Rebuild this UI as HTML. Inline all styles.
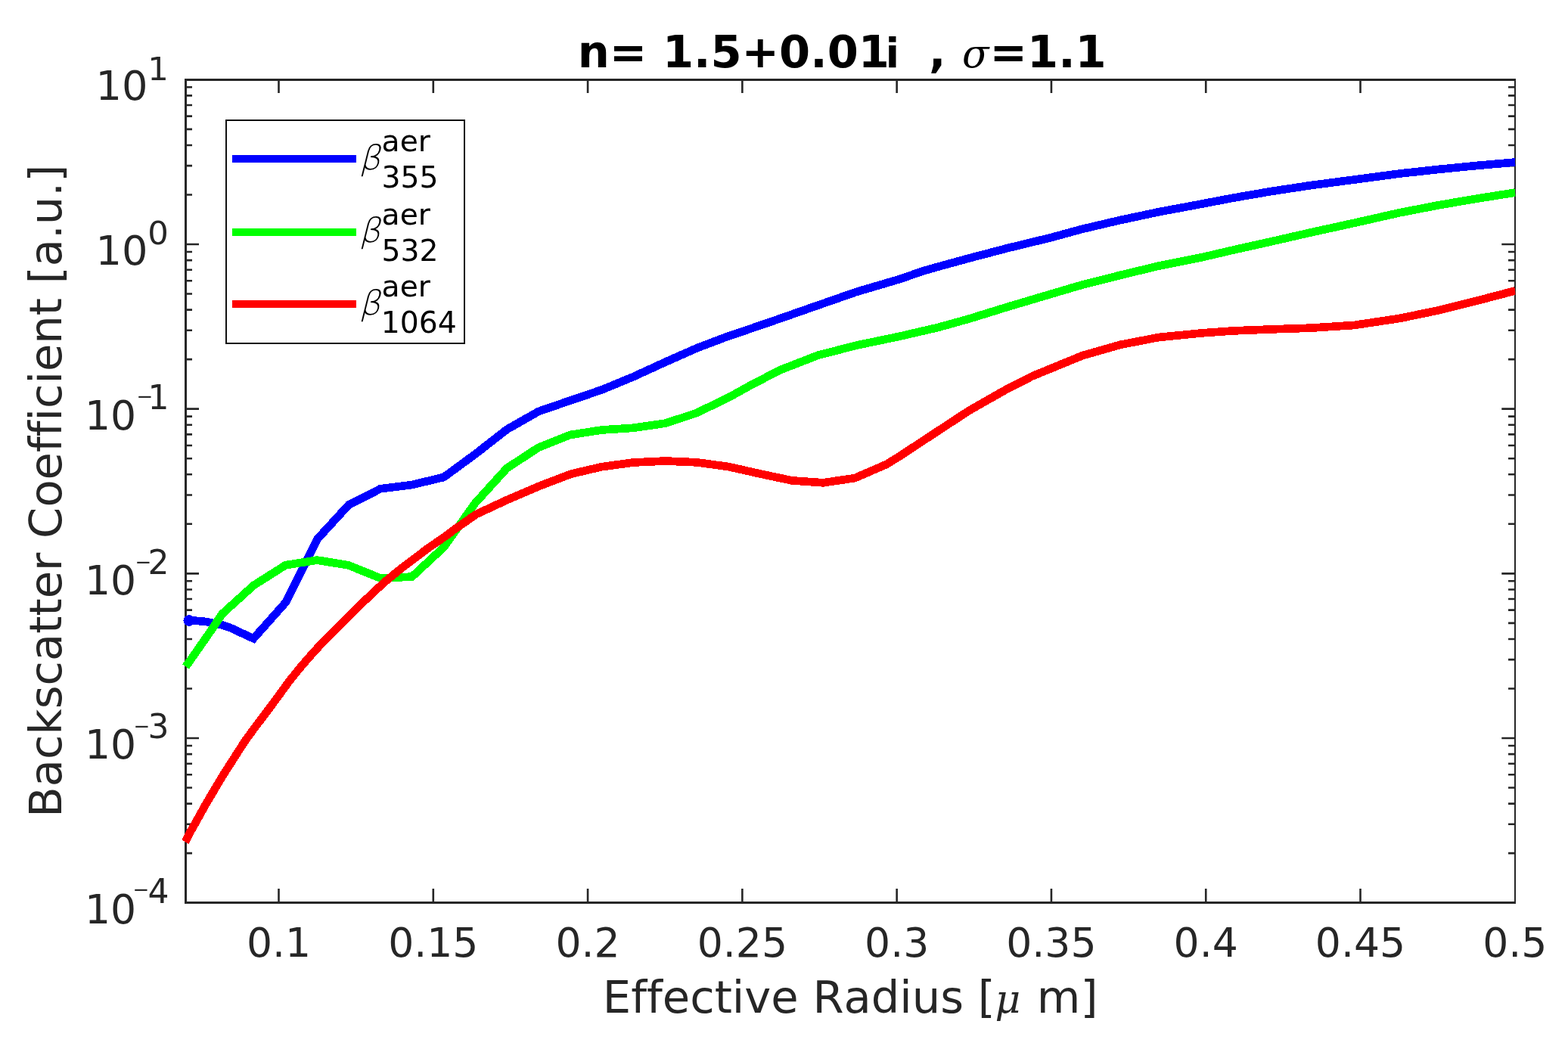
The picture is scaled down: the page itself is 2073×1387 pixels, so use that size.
<!DOCTYPE html>
<html lang="en"><head><meta charset="utf-8"><title>Backscatter Coefficient vs Effective Radius</title>
<style>
html,body{margin:0;padding:0;background:#fff;}
body{width:2073px;height:1387px;overflow:hidden;}
svg{display:block;}
text{font-family:"DejaVu Sans","Liberation Sans",sans-serif;font-variant-ligatures:none;font-kerning:none;}
.tk{font-size:53.6px;fill:#262626;}
.ex{font-size:44px;fill:#262626;}
.lb{font-size:59.14px;fill:#262626;}
.tt{font-size:59.1px;font-weight:bold;fill:#000;}
.gr{font-family:"DejaVu Serif","Liberation Serif",serif;font-style:italic;font-weight:normal;}
.gl{font-family:"DejaVu Sans Light","DejaVu Serif","Liberation Serif",serif;font-style:italic;font-weight:normal;}
.lg{font-size:39.3px;fill:#000;}
</style></head><body>
<svg width="2073" height="1387" viewBox="0 0 2073 1387">
<rect x="0" y="0" width="2073" height="1387" fill="#fff"/>

<path d="M368.50 1193 V1175 M368.50 106 V123 M572.79 1193 V1175 M572.79 106 V123 M777.08 1193 V1175 M777.08 106 V123 M981.36 1193 V1175 M981.36 106 V123 M1185.65 1193 V1175 M1185.65 106 V123 M1389.94 1193 V1175 M1389.94 106 V123 M1594.23 1193 V1175 M1594.23 106 V123 M1798.51 1193 V1175 M1798.51 106 V123 M246 1128.15 H254 M2003 1128.15 H1994 M246 1089.82 H254 M2003 1089.82 H1994 M246 1062.62 H254 M2003 1062.62 H1994 M246 1041.53 H254 M2003 1041.53 H1994 M246 1024.29 H254 M2003 1024.29 H1994 M246 1009.72 H254 M2003 1009.72 H1994 M246 997.10 H254 M2003 997.10 H1994 M246 985.96 H254 M2003 985.96 H1994 M246 976.00 H263 M2003 976.00 H1985.3 M246 910.48 H254 M2003 910.48 H1994 M246 872.15 H254 M2003 872.15 H1994 M246 844.95 H254 M2003 844.95 H1994 M246 823.86 H254 M2003 823.86 H1994 M246 806.62 H254 M2003 806.62 H1994 M246 792.05 H254 M2003 792.05 H1994 M246 779.43 H254 M2003 779.43 H1994 M246 768.29 H254 M2003 768.29 H1994 M246 758.33 H263 M2003 758.33 H1985.3 M246 692.81 H254 M2003 692.81 H1994 M246 654.48 H254 M2003 654.48 H1994 M246 627.28 H254 M2003 627.28 H1994 M246 606.19 H254 M2003 606.19 H1994 M246 588.96 H254 M2003 588.96 H1994 M246 574.38 H254 M2003 574.38 H1994 M246 561.76 H254 M2003 561.76 H1994 M246 550.63 H254 M2003 550.63 H1994 M246 540.67 H263 M2003 540.67 H1985.3 M246 475.14 H254 M2003 475.14 H1994 M246 436.81 H254 M2003 436.81 H1994 M246 409.62 H254 M2003 409.62 H1994 M246 388.52 H254 M2003 388.52 H1994 M246 371.29 H254 M2003 371.29 H1994 M246 356.72 H254 M2003 356.72 H1994 M246 344.09 H254 M2003 344.09 H1994 M246 332.96 H254 M2003 332.96 H1994 M246 323.00 H263 M2003 323.00 H1985.3 M246 257.47 H254 M2003 257.47 H1994 M246 219.14 H254 M2003 219.14 H1994 M246 191.95 H254 M2003 191.95 H1994 M246 170.85 H254 M2003 170.85 H1994 M246 153.62 H254 M2003 153.62 H1994 M246 139.05 H254 M2003 139.05 H1994 M246 126.42 H254 M2003 126.42 H1994 M246 115.29 H254 M2003 115.29 H1994" stroke="#262626" stroke-width="2.6" fill="none"/>
<path d="M244 104H2004V1195H244Z M247 107V1192H2002V107Z" fill="#262626" fill-rule="evenodd"/>
<clipPath id="cp"><rect x="241" y="103.83" width="1762.3" height="1091.3400000000001"/></clipPath>
<g clip-path="url(#cp)" fill="none" stroke-width="10.7" stroke-linejoin="miter" stroke-linecap="butt" shape-rendering="crispEdges">
<polyline stroke="#0000ff" points="245.5,819.9 252.1,820.2 272.6,822.0 293.9,826.5 305.0,830.3 335.2,844.3 377.5,796.7 419.3,713.0 461.1,667.5 502.9,646.3 544.7,641.0 586.6,631.0 628.4,600.4 670.2,567.8 712.0,544.0 753.8,529.6 795.6,515.4 837.4,498.1 879.2,478.9 921.0,460.4 962.8,444.5 980.0,438.8 1030.7,421.4 1081.3,403.7 1132.0,386.0 1190.0,368.9 1217.5,359.3 1230.7,355.3 1281.3,341.4 1332.0,328.1 1390.0,314.0 1430.7,302.9 1481.3,291.0 1532.0,280.2 1590.0,269.4 1630.7,261.6 1681.3,252.9 1732.0,245.2 1790.0,237.6 1850.7,229.5 1901.3,224.0 1952.0,219.0 2003.3,214.5"/>
<circle cx="249.8" cy="820.5" r="7.4" fill="#0000ff" stroke="none"/>
<polyline stroke="#00ff00" points="245.5,881.5 252.1,872.3 275.8,838.4 293.9,811.5 335.3,774.0 377.6,747.2 419.5,740.6 461.1,747.5 502.9,764.5 544.7,762.6 586.6,723.7 628.4,665.0 670.2,619.0 712.0,591.7 753.8,575.0 795.6,568.5 837.4,565.8 879.2,559.7 900.0,553.0 921.0,546.0 962.8,525.8 990.0,510.7 1030.7,489.5 1081.3,469.8 1132.0,456.7 1190.0,444.6 1240.0,433.0 1281.3,421.5 1332.0,405.8 1390.0,388.6 1430.7,376.6 1481.3,363.8 1532.0,351.6 1590.0,340.0 1630.7,330.5 1681.3,319.2 1732.0,307.6 1790.0,294.9 1850.7,281.2 1901.3,271.4 1952.0,262.7 2003.3,254.6"/>
<polyline stroke="#ff0000" points="244.9,1113.2 252.1,1099.2 273.0,1061.8 293.9,1026.6 310.9,1000.0 323.8,980.0 337.2,961.6 352.6,941.3 367.6,921.0 382.3,900.8 398.7,880.5 416.4,860.3 435.7,840.0 466.0,809.6 490.5,786.3 508.0,770.0 531.3,750.9 566.0,724.8 590.0,708.3 600.2,700.5 629.5,680.0 671.5,660.5 713.5,642.5 755.5,626.5 795.6,617.2 837.4,611.5 879.2,609.5 921.0,611.3 962.8,617.0 1004.6,626.4 1046.5,635.3 1088.3,638.3 1130.1,632.1 1171.9,614.0 1190.0,602.8 1230.7,576.0 1281.3,542.8 1332.0,514.0 1364.9,497.3 1390.0,487.0 1430.7,470.3 1481.3,455.8 1532.0,446.0 1590.0,440.3 1630.7,437.4 1681.3,435.4 1732.0,433.7 1790.0,430.0 1850.7,420.9 1901.3,410.4 1952.0,397.8 2003.3,384.4"/>
</g>
<text class="tk" x="368.5" y="1264.8" text-anchor="middle">0.1</text>
<text class="tk" x="572.8" y="1264.8" text-anchor="middle">0.15</text>
<text class="tk" x="777.1" y="1264.8" text-anchor="middle">0.2</text>
<text class="tk" x="981.4" y="1264.8" text-anchor="middle">0.25</text>
<text class="tk" x="1185.7" y="1264.8" text-anchor="middle">0.3</text>
<text class="tk" x="1389.9" y="1264.8" text-anchor="middle">0.35</text>
<text class="tk" x="1594.2" y="1264.8" text-anchor="middle">0.4</text>
<text class="tk" x="1798.5" y="1264.8" text-anchor="middle">0.45</text>
<text class="tk" x="2002.8" y="1264.8" text-anchor="middle">0.5</text>
<text class="tk"><tspan x="111.9" y="1221.0">10</tspan><tspan class="ex" x="175.4" y="1185.1" style="font-size:26px">−</tspan><tspan class="ex" x="195.6" y="1193.9">4</tspan></text>
<text class="tk"><tspan x="111.9" y="1003.3">10</tspan><tspan class="ex" x="176.4" y="968.9" style="font-size:26px">−</tspan><tspan class="ex" x="195.6" y="976.2">3</tspan></text>
<text class="tk"><tspan x="111.9" y="785.6">10</tspan><tspan class="ex" x="178.4" y="751.9" style="font-size:26px">−</tspan><tspan class="ex" x="195.6" y="758.5">2</tspan></text>
<text class="tk"><tspan x="111.9" y="568.0">10</tspan><tspan class="ex" x="180.6" y="532.9" style="font-size:26px">−</tspan><tspan class="ex" x="195.6" y="540.9">1</tspan></text>
<text class="tk"><tspan x="126.6" y="349.5" style="font-size:54.2px">10</tspan><tspan class="ex" x="195.3" y="323.2" style="font-size:43.4px">0</tspan></text>
<text class="tk"><tspan x="126.6" y="131.8" style="font-size:54.2px">10</tspan><tspan class="ex" x="195.3" y="105.5" style="font-size:43.4px">1</tspan></text>
<text class="lb" x="796.8" y="1339.3">Effective Radius [<tspan class="gr" x="1315.4" style="font-size:52px">μ </tspan><tspan x="1370.8">m]</tspan></text>
<text class="lb" transform="translate(80.9,1080.8) rotate(-90)">Backscatter Coefficient [a.u.]</text>
<text class="tt" y="89.3"><tspan x="763.8">n= </tspan><tspan x="875.9">1.5+0.01</tspan><tspan x="1170.7" style="font-size:53px">i </tspan><tspan x="1228">, </tspan><tspan class="gr" x="1272" style="font-size:52px">σ</tspan><tspan x="1308.5">=1.1</tspan></text>
<rect x="299" y="159" width="315" height="295" fill="#fff" stroke="#101010" stroke-width="2"/>
<path d="M307 210 H471" stroke="#0000ff" stroke-width="10" fill="none" shape-rendering="crispEdges"/>
<text class="lg"><tspan class="gl" x="474.8" y="223.7" style="font-size:44.7px">β</tspan><tspan x="504.6" y="200">aer</tspan><tspan x="504.6" y="248">355</tspan></text>
<path d="M307 306.5 H471" stroke="#00ff00" stroke-width="10" fill="none" shape-rendering="crispEdges"/>
<text class="lg"><tspan class="gl" x="474.8" y="320.2" style="font-size:44.7px">β</tspan><tspan x="504.6" y="296.5">aer</tspan><tspan x="504.6" y="344.5">532</tspan></text>
<path d="M307 402 H471" stroke="#ff0000" stroke-width="10" fill="none" shape-rendering="crispEdges"/>
<text class="lg"><tspan class="gl" x="474.8" y="415.7" style="font-size:44.7px">β</tspan><tspan x="504.6" y="392">aer</tspan><tspan x="503.8" y="440">1064</tspan></text>
</svg></body></html>
